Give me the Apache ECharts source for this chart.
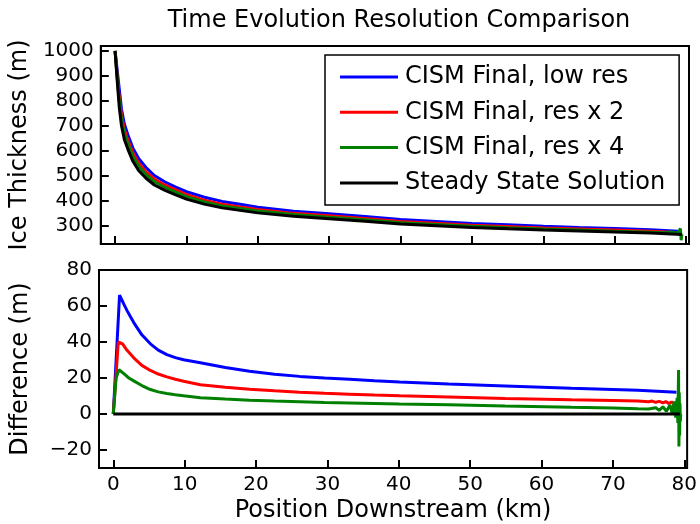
<!DOCTYPE html>
<html>
<head>
<meta charset="utf-8">
<script src="https://cdn.jsdelivr.net/npm/echarts@6/dist/echarts.min.js"></script>
<style>html,body{margin:0;padding:0;background:#fff}#c{width:700px;height:524px}</style>
</head>
<body>
<div id="c"></div>
<script>
// ---- data ----
const seriesNames = ['CISM Final, low res', 'CISM Final, res x 2', 'CISM Final, res x 4', 'Steady State Solution'];
const seriesColors = ['#0000ff', '#ff0000', '#008000', '#000000'];
const xTicks = [0, 10, 20, 30, 40, 50, 60, 70, 80];
const topYTicks = [300, 400, 500, 600, 700, 800, 900, 1000];
const botYTicks = [-20, 0, 20, 40, 60, 80];

// Top panel: ice thickness (m) vs position (km)
const lowResX = [0, 0.9, 1.3, 1.8, 2.5, 3.3, 4.3, 5.5, 7, 8.5, 10, 12.5, 15, 17.5, 20, 25, 30, 35, 40, 45, 50, 55, 60, 65, 70, 75, 78.9];
const lowResH = [1000, 766, 707, 663, 610, 568, 533, 500, 474, 453, 435, 413, 396, 385, 373, 357, 346, 335, 323, 315, 307, 302, 296, 291, 287, 282, 276];
const res2X = [0, 0.45, 0.9, 1.3, 1.8, 2.5, 3.3, 4.3, 5.5, 7, 8.5, 10, 12.5, 15, 17.5, 20, 25, 30, 35, 40, 45, 50, 55, 60, 65, 70, 75, 78.4];
const res2H = [1000, 850, 741, 684, 641, 590, 550, 516, 486, 461, 442, 423, 401, 385, 374, 364, 348, 338, 327, 315, 308, 300, 295, 289, 285, 281, 276, 271];
const res4X = [0, 0.3, 0.6, 0.9, 1.3, 1.8, 2.5, 3.3, 4.3, 5.5, 7, 8.5, 10, 12.5, 15, 17.5, 20, 25, 30, 35, 40, 45, 50, 55, 60, 65, 70, 75, 77, 78, 78.6, 79.0, 79.2, 79.3, 79.4];
const res4H = [1000, 895, 793, 724, 668, 626, 576, 537, 505, 475, 452, 433, 415, 394, 378, 368, 358, 343, 332, 322, 310, 303, 296, 290, 285, 281, 276, 272, 270, 273, 268, 276, 287, 240, 265];
const steadyX = [0, 0.3, 0.6, 0.9, 1.3, 1.8, 2.5, 3.3, 4.3, 5.5, 7, 8.5, 10, 12.5, 15, 17.5, 20, 25, 30, 35, 40, 45, 50, 55, 60, 65, 70, 75, 79.4];
const steadyH = [1000, 880, 770, 700, 645, 605, 557, 520, 490, 462, 440, 422, 405, 385, 370, 360, 350, 336, 326, 316, 305, 298, 291, 286, 281, 277, 273, 269, 263];

// Bottom panel: difference (m) vs position (km)
const lowResDX = [0, 0.88, 1.48, 1.95, 2.41, 2.87, 4, 5.2, 6.3, 7.5, 8.7, 9.85, 12.2, 15.7, 19.1, 22.6, 26.1, 29.6, 33.1, 36.6, 40.1, 47, 54.9, 64.2, 73.5, 78.9];
const lowResD = [0, 66, 61, 57.3, 54, 50.8, 44, 39, 35.5, 33, 31.3, 30.1, 28.5, 25.8, 23.7, 22.1, 20.9, 20, 19.3, 18.5, 17.8, 16.7, 15.6, 14.3, 13.2, 12.1];
const res2DX = [0, 0.45, 0.7, 0.95, 1.3, 1.9, 2.87, 4, 5.2, 6.3, 7.5, 8.7, 9.85, 12.2, 15.7, 19.1, 22.6, 26.1, 29.6, 33.1, 36.6, 40.1, 47, 54.9, 64.2, 70, 73.5, 75, 75.5, 76, 76.5, 77, 77.4, 77.8, 78.2, 78.6, 79, 79.3];
const res2D = [0, 25, 40, 41, 39, 35.5, 31.2, 27, 24.2, 22.2, 20.6, 19.3, 18.2, 16.2, 14.8, 13.8, 12.9, 12.1, 11.5, 11, 10.5, 10.1, 9.4, 8.6, 7.9, 7.5, 7.2, 6.8, 7.2, 6.5, 7.0, 6.2, 6.9, 5.8, 6.7, 5.5, 6.5, 5.8];
const res4DX = [0, 0.4, 0.8, 1.48, 2.18, 2.87, 4, 5.2, 6.3, 7.5, 8.7, 9.85, 12.2, 15.7, 19.1, 22.6, 26.1, 29.6, 33.1, 36.6, 40.1, 47, 54.9, 64.2, 70, 73.5, 75, 76, 76.5, 77, 77.5, 78, 78.3, 78.6, 78.8, 79.0, 79.1, 79.2, 79.25, 79.3, 79.35, 79.4, 79.45, 79.5];
const res4D = [0, 20, 24.6, 22.4, 20, 18.4, 15.8, 13.6, 12.3, 11.4, 10.7, 10.1, 9.0, 8.3, 7.7, 7.2, 6.8, 6.4, 6.1, 5.8, 5.5, 5.1, 4.4, 3.7, 3.3, 2.9, 2.8, 3.5, 2.0, 4.0, 1.5, 5, 0.5, 7, -2, 9, -5, 24.5, -18, 12, -12, 6, -4, 0];
const steadyDX = [0, 79.4];
const steadyD = [0, 0];

// ---- chart ----
const FONT = 'DejaVu Sans';
const zip = (xs, ys) => xs.map((x, i) => [x, ys[i]]);
const fmt = v => (v < 0 ? '\u2212' + Math.abs(v) : String(v));
const chart = echarts.init(document.getElementById('c'), null, {renderer: 'canvas'});

function xAxisCfg(gridIndex, showLabels) {
  return {
    type: 'value', gridIndex: gridIndex, min: -2, max: 80.4,
    axisLine: {show: true, onZero: false, lineStyle: {color: '#000', width: 2}},
    axisTick: {show: true, inside: true, length: 8, lineStyle: {color: '#000', width: 2}, customValues: xTicks},
    axisLabel: {show: showLabels, customValues: xTicks, formatter: fmt, color: '#000', fontSize: 20, fontFamily: FONT, margin: 7},
    splitLine: {show: false},
    name: showLabels ? 'Position Downstream (km)' : '',
    nameLocation: 'middle', nameGap: 31,
    nameTextStyle: {color: '#000', fontSize: 24, fontFamily: FONT}
  };
}
function yAxisCfg(gridIndex, min, max, ticks, name) {
  return {
    type: 'value', gridIndex: gridIndex, min: min, max: max,
    axisLine: {show: true, onZero: false, lineStyle: {color: '#000', width: 2}},
    axisTick: {show: true, inside: true, length: 8, lineStyle: {color: '#000', width: 2}, customValues: ticks},
    axisLabel: {show: true, customValues: ticks, formatter: fmt, color: '#000', fontSize: 20, fontFamily: FONT, margin: 7},
    splitLine: {show: false},
    name: name, nameLocation: 'middle', nameGap: 66,
    nameTextStyle: {color: '#000', fontSize: 24, fontFamily: FONT}
  };
}
function line(name, color, xi, data) {
  return {
    name: name, type: 'line', xAxisIndex: xi, yAxisIndex: xi,
    data: data, showSymbol: false, symbol: 'none', smooth: false,
    lineStyle: {color: color, width: 3}, itemStyle: {color: color},
    animation: false, clip: true
  };
}

const option = {
  backgroundColor: '#fff',
  animation: false,
  title: {
    text: 'Time Evolution Resolution Comparison',
    left: 394, top: 4, textAlign: 'center',
    textStyle: {color: '#000', fontSize: 24, fontWeight: 'normal', fontFamily: FONT}
  },
  legend: {
    orient: 'vertical', left: 325, top: 55,
    padding: [10, 14, 10, 15], itemGap: 11.3,
    itemWidth: 58, itemHeight: 3, icon: 'rect',
    borderColor: '#000', borderWidth: 1.5, borderRadius: 0,
    backgroundColor: '#fff',
    selectedMode: false,
    data: seriesNames,
    textStyle: {color: '#000', fontSize: 24, lineHeight: 24, fontFamily: FONT, padding: [0, 0, 0, 2]}
  },
  grid: [
    {left: 99, right: 11, top: 46, height: 198, show: true, borderColor: '#000', borderWidth: 2, backgroundColor: 'transparent'},
    {left: 99, right: 11, top: 270, height: 199, show: true, borderColor: '#000', borderWidth: 2, backgroundColor: 'transparent'}
  ],
  xAxis: [xAxisCfg(0, false), xAxisCfg(1, true)],
  yAxis: [
    yAxisCfg(0, 225, 1020, topYTicks, 'Ice Thickness (m)'),
    yAxisCfg(1, -30, 80, botYTicks, 'Difference (m)')
  ],
  series: [
    line(seriesNames[0], seriesColors[0], 0, zip(lowResX, lowResH)),
    line(seriesNames[1], seriesColors[1], 0, zip(res2X, res2H)),
    line(seriesNames[2], seriesColors[2], 0, zip(res4X, res4H)),
    line(seriesNames[3], seriesColors[3], 0, zip(steadyX, steadyH)),
    line(seriesNames[0], seriesColors[0], 1, zip(lowResDX, lowResD)),
    line(seriesNames[1], seriesColors[1], 1, zip(res2DX, res2D)),
    line(seriesNames[2], seriesColors[2], 1, zip(res4DX, res4D)),
    line(seriesNames[3], seriesColors[3], 1, zip(steadyDX, steadyD))
  ]
};
chart.setOption(option);
</script>
</body>
</html>
